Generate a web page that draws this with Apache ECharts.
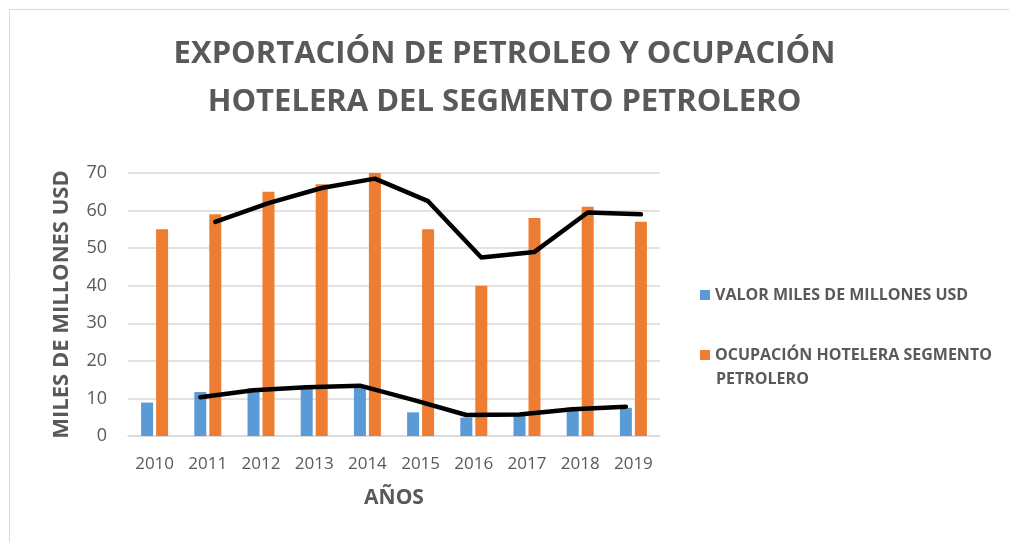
<!DOCTYPE html>
<html>
<head>
<meta charset="utf-8">
<script src="https://cdn.jsdelivr.net/npm/echarts@6/dist/echarts.min.js"></script>
<style>
html,body{margin:0;padding:0;background:#fff;}
#chart{width:1009px;height:542px;}
</style>
</head>
<body>
<div id="chart"></div>
<script>
var categories = ['2010','2011','2012','2013','2014','2015','2016','2017','2018','2019'];
var valorUSD = [8.9, 11.7, 12.7, 13.2, 13.5, 6.3, 4.9, 5.8, 7.6, 7.5];
var ocupacion = [55, 59, 65, 67, 70, 55, 40, 58, 61, 57];
var valorTrend = [null, 10.3, 12.2, 13.0, 13.4, 9.6, 5.6, 5.7, 7.1, 7.8];
var ocupacionTrend = [null, 57, 62, 66, 68.5, 62.5, 47.5, 49, 59.5, 59];
var yTicks = [0, 10, 20, 30, 40, 50, 60, 70];
var titleText = 'EXPORTACIÓN DE PETROLEO Y OCUPACIÓN\nHOTELERA DEL SEGMENTO PETROLERO';
var nameValor = 'VALOR MILES DE MILLONES USD';
var nameOcup = 'OCUPACIÓN HOTELERA SEGMENTO PETROLERO';
var legendOcupLine1 = 'OCUPACIÓN HOTELERA SEGMENTO';
var legendOcupLine2 = 'PETROLERO';

var FONT = 'Open Sans';
var TXT = '#595959';
var gridBase = {left: 128, right: 349, top: 173, bottom: 106};
function shifted(dx) {
  return {left: gridBase.left + dx, right: gridBase.right - dx, top: gridBase.top, bottom: gridBase.bottom};
}
var yMax = yTicks[yTicks.length - 1];
var yInt = yTicks[1] - yTicks[0];

var chart = echarts.init(document.getElementById('chart'), null, {renderer: 'canvas'});
var hiddenY = function (gi) {
  return {type: 'value', gridIndex: gi, min: yTicks[0], max: yMax, interval: yInt, show: false};
};
var hiddenX = function (gi) {
  return {type: 'category', gridIndex: gi, data: categories, show: false, boundaryGap: true};
};
chart.setOption({
  animation: false,
  backgroundColor: '#ffffff',
  textStyle: {fontFamily: FONT},
  title: {
    text: titleText,
    left: 'center',
    top: 25,
    padding: [5, 0, 5, 12],
    textStyle: {fontFamily: FONT, fontSize: 31, fontWeight: 'bold', color: TXT, lineHeight: 48}
  },
  graphic: [
    {type: 'line', shape: {x1: 9, y1: 9.5, x2: 1009, y2: 9.5}, style: {stroke: '#D9D9D9', lineWidth: 1}},
    {type: 'line', shape: {x1: 9.5, y1: 9, x2: 9.5, y2: 542}, style: {stroke: '#D9D9D9', lineWidth: 1}},
    {type: 'text', left: 716, top: 371, style: {text: legendOcupLine2, font: 'bold 16px "Open Sans"', fill: TXT}}
  ],
  legend: {
    data: [nameValor, nameOcup],
    orient: 'vertical',
    left: 695,
    top: 280,
    padding: 5,
    itemWidth: 10,
    itemHeight: 10,
    itemGap: 40,
    icon: 'rect',
    formatter: function (n) {
      return n === nameOcup ? legendOcupLine1 : n;
    },
    textStyle: {fontFamily: FONT, fontSize: 16, fontWeight: 'bold', color: TXT, lineHeight: 20}
  },
  grid: [gridBase, shifted(-7.5), shifted(7.5)],
  xAxis: [
    {
      type: 'category', gridIndex: 0, data: categories,
      name: 'AÑOS', nameLocation: 'middle', nameGap: 52,
      nameTextStyle: {fontFamily: FONT, fontSize: 21, fontWeight: 'bold', color: TXT},
      axisLine: {show: true, lineStyle: {color: '#D9D9D9', width: 1.5}},
      axisTick: {show: false},
      axisLabel: {fontFamily: FONT, fontSize: 17, color: TXT, margin: 20}
    },
    hiddenX(1), hiddenX(2)
  ],
  yAxis: [
    {
      type: 'value', gridIndex: 0, min: yTicks[0], max: yMax, interval: yInt,
      name: 'MILES DE MILLONES USD', nameLocation: 'middle', nameGap: 55, nameRotate: 90,
      nameTextStyle: {fontFamily: FONT, fontSize: 22, fontWeight: 'bold', color: TXT},
      axisLine: {show: false}, axisTick: {show: false},
      axisLabel: {fontFamily: FONT, fontSize: 18, color: TXT, margin: 21},
      splitLine: {show: true, lineStyle: {color: '#D9D9D9', width: 1.5}}
    },
    hiddenY(1), hiddenY(2)
  ],
  series: [
    {
      name: nameValor, type: 'bar', xAxisIndex: 0, yAxisIndex: 0,
      data: valorUSD, barWidth: 12, barGap: '25%',
      itemStyle: {color: '#5B9BD5'}
    },
    {
      name: nameOcup, type: 'bar', xAxisIndex: 0, yAxisIndex: 0,
      data: ocupacion, barWidth: 12, barGap: '25%',
      itemStyle: {color: '#ED7D31'}
    },
    {
      name: 'trend valor', type: 'line', xAxisIndex: 1, yAxisIndex: 1,
      data: valorTrend, showSymbol: false, symbol: 'none',
      lineStyle: {color: '#000000', width: 4.5, cap: 'round', join: 'round'}, z: 5
    },
    {
      name: 'trend ocupacion', type: 'line', xAxisIndex: 2, yAxisIndex: 2,
      data: ocupacionTrend, showSymbol: false, symbol: 'none',
      lineStyle: {color: '#000000', width: 4.5, cap: 'round', join: 'round'}, z: 5
    }
  ]
});
</script>
</body>
</html>
